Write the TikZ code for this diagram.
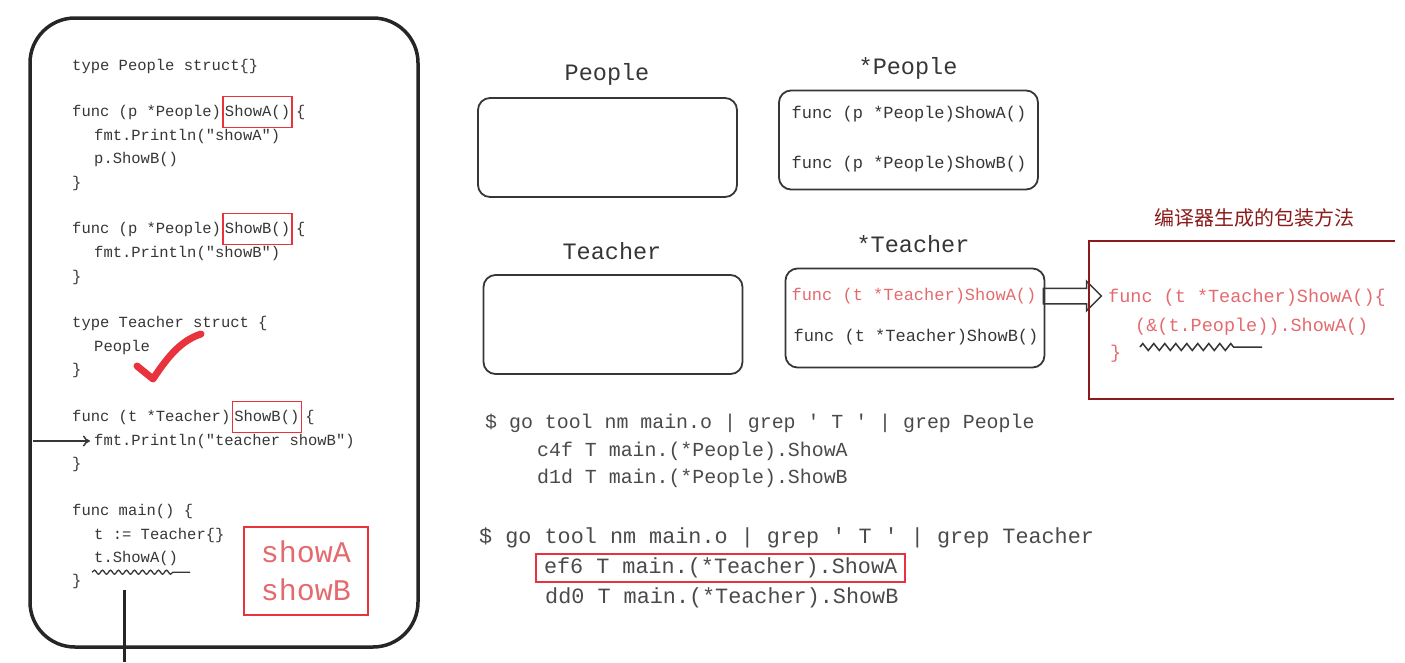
\documentclass[tikz,border=0pt]{standalone}
\usepackage{fontspec}
\setmonofont{Liberation Mono}
\newfontfamily\cjk{Noto Sans CJK SC}
\usepackage{tikz}
\usetikzlibrary{calc,arrows.meta,positioning,shapes.arrows,decorations.pathmorphing}
\definecolor{ink}{HTML}{363636}
\definecolor{hot}{HTML}{E8323C}
\definecolor{soft}{HTML}{E36A6E}
\definecolor{wine}{HTML}{8B1A1A}

\begin{document}
\begin{tikzpicture}[x=1pt, y=-1pt, every node/.style={inner sep=0pt},
  code/.style={font=\fontsize{15.5}{18}\selectfont\ttfamily, text=ink, anchor=west, text height=11pt, text depth=3pt},
  hit/.style={code, draw=hot, line width=1.5pt, inner xsep=2pt, inner ysep=8.5pt},
  tag/.style={font=\fontsize{23.5}{26}\selectfont\ttfamily, text=ink},
  slot/.style={draw=ink, line width=1.8pt, rounded corners=12pt, minimum width=259pt, minimum height=99pt},
  meth/.style={font=\fontsize{17}{20}\selectfont\ttfamily, text=ink},
  term/.style={font=\fontsize{19.9}{22}\selectfont\ttfamily, text=ink!90, anchor=west},
  termb/.style={font=\fontsize{21.8}{24}\selectfont\ttfamily, text=ink!90, anchor=west},
  wrapped/.style={font=\fontsize{18.5}{22}\selectfont\ttfamily, text=soft, anchor=west},
  fatarrow/.style={single arrow, draw=ink, line width=1.5pt, inner ysep=7pt, minimum height=58pt, minimum width=28pt, single arrow head extend=7pt}]
\useasboundingbox (0,0) rectangle (1405,662);

% source code panel
\node[draw=black!85, line width=3.5pt, rounded corners=45pt, minimum width=388pt, minimum height=629pt] (codePanel) at (224,332.5) {};
\node[code] (c1) at (72,66) {type People struct\{\}};
\node[code] (c2) at (72,112) {func (p *People)};
\node[hit, right=1pt of c2] (hitA) {ShowA()};
\node[code, right=3pt of hitA] (c2b) {\{};
\node[code] (c3) at (94,136) {fmt.Println("showA")};
\node[code] (c4) at (94,159) {p.ShowB()};
\node[code] (c5) at (72,183) {\}};
\node[code] (c6) at (72,229) {func (p *People)};
\node[hit, right=1pt of c6] (hitB) {ShowB()};
\node[code, right=3pt of hitB] (c6b) {\{};
\node[code] (c7) at (94,253) {fmt.Println("showB")};
\node[code] (c8) at (72,277) {\}};
\node[code] (c9) at (72,323) {type Teacher struct \{};
\node[code] (c10) at (94,347) {People};
\node[code] (c11) at (72,370) {\}};
\node[code] (c12) at (72,417) {func (t *Teacher)};
\node[hit, right=1pt of c12] (hitC) {ShowB()};
\node[code, right=3pt of hitC] (c12b) {\{};
\node[code] (c13) at (94,441) {fmt.Println("teacher showB")};
\node[code] (c14) at (72,464) {\}};
\node[code] (c15) at (72,511) {func main() \{};
\node[code] (c16) at (94,535) {t := Teacher\{\}};
\node[code] (c17) at (94,558) {t.ShowA()};
\node[code] (c18) at (72,581) {\}};
\node[draw=hot, line width=2.5pt, minimum width=124pt, minimum height=88pt, font=\fontsize{30}{38}\selectfont\ttfamily, text=soft, align=center] (outBox) at (306,571) {showA\\showB};

\coordinate (feed) at (33,441);
\draw[-{To[length=7pt,width=11pt]}, ink, line width=1.5pt, shorten >=4pt] (feed) -- (c13.west);
\draw[ink, line width=1.3pt, decorate, decoration={snake, amplitude=2pt, segment length=8pt, post length=16pt}] ($(c17.south west)+(-2,7)$) -- ($(c17.south east)+(12,7)$);
\coordinate (stemTop) at (124,590);
\coordinate (stemEnd) at (124,662);
\draw[black!85, line width=3pt] (stemTop) -- (stemEnd);
\draw[hot, line width=7pt, line cap=round, line join=round] (137,366) -- (153,379) .. controls (170,353) and (183,340) .. (201,334);

% method sets
\node[slot] (peopleBox) at (607.5,147.5) {};
\node[tag] (peopleTag) at (607,74) {People};
\node[slot] (ptrPeopleBox) at (908.5,140) {};
\node[tag] (ptrPeopleTag) at (908,68) {*People};
\node[meth] (pA) at (909,114) {func (p *People)ShowA()};
\node[meth] (pB) at (909,164) {func (p *People)ShowB()};
\node[slot] (teacherBox) at (613,324.5) {};
\node[tag] (teacherTag) at (612,251) {Teacher};
\node[slot] (ptrTeacherBox) at (915,318) {};
\node[tag] (ptrTeacherTag) at (913,244) {*Teacher};
\node[meth, text=soft] (tA) at (914,296) {func (t *Teacher)ShowA()};
\node[meth] (tB) at (916,337) {func (t *Teacher)ShowB()};
\node[fatarrow, right=6pt of tA] (wrapArrow) {};

% wrapper generated by the compiler
\node[font=\cjk\fontsize{20}{24}\selectfont, text=wine] (wrapTag) at (1254,218) {编译器生成的包装方法};
\draw[wine, line width=2.5pt] (1395,241) -- (1089,241) -- (1089,399) -- (1394,399);
\node[wrapped] (w1) at (1108,298) {func (t *Teacher)ShowA()\{};
\node[wrapped] (w2) at (1135,327) {(\&(t.People)).ShowA()};
\node[wrapped] (w3) at (1110,354) {\}};
\draw[ink, line width=1.5pt, decorate, decoration={zigzag, amplitude=3.5pt, segment length=11pt, post length=28pt}] ($(w2.west)+(5,20)$) -- ($(w2.west)+(127,20)$);

% symbol table
\node[term] (n1) at (485,423) {\$ go tool nm main.o | grep ' T ' | grep People};
\node[term] (n2) at (537,451) {c4f T main.(*People).ShowA};
\node[term] (n3) at (537,478) {d1d T main.(*People).ShowB};
\node[termb] (n4) at (479,538) {\$ go tool nm main.o | grep ' T ' | grep Teacher};
\node[termb, draw=hot, line width=2pt, inner xsep=8pt, inner ysep=3.5pt] (n5) at (535,568) {ef6 T main.(*Teacher).ShowA};
\node[termb] (n6) at (545,598) {dd0 T main.(*Teacher).ShowB};
\end{tikzpicture}
\end{document}
